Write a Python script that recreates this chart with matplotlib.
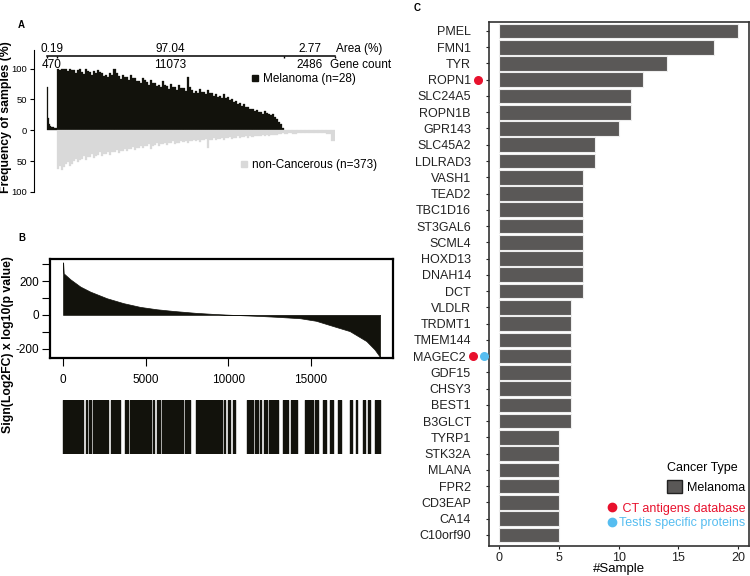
import numpy as np
import matplotlib
matplotlib.use('Agg')
import matplotlib.pyplot as plt
from matplotlib.patches import Patch
from matplotlib.lines import Line2D
from matplotlib.transforms import blended_transform_factory, ScaledTranslation

plt.rcParams['font.family'] = ['Liberation Sans', 'DejaVu Sans']

# ---------------- panel A : frequency of samples per gene ----------------
area_pct = [0.19, 97.04, 2.77]
gene_counts = [470, 11073, 2486]
seg1_mel = [70, 20, 10, 7, 6, 5, 5, 4, 4, 4]
seg2_mel = [100, 98, 100, 100, 99, 96, 100, 97, 97, 93, 98, 100, 95, 91, 100, 96,
            94, 89, 96, 93, 98, 94, 92, 88, 90, 86, 93, 89, 100, 92, 88, 83,
            90, 87, 86, 81, 89, 85, 84, 80, 80, 76, 85, 81, 78, 73, 82, 77,
            76, 72, 74, 70, 79, 73, 72, 67, 75, 70, 70, 66, 73, 68, 68, 63,
            86, 70, 66, 61, 64, 60, 67, 62, 62, 58, 65, 60, 60, 55, 58, 54,
            56, 52, 59, 53, 54, 49, 50, 46, 47, 43, 44, 40, 42, 38, 37, 34,
            35, 31, 33, 29, 30, 27, 31, 28, 27, 24, 26, 21, 18, 13, 10, 4]
seg2_non = [62, 58, 65, 60, 55, 51, 58, 54, 50, 47, 52, 48, 46, 42, 48, 44,
            43, 39, 45, 41, 40, 36, 42, 38, 38, 35, 40, 36, 35, 32, 37, 33,
            33, 30, 34, 31, 30, 27, 32, 28, 28, 25, 29, 26, 26, 23, 30, 25,
            24, 21, 25, 22, 22, 20, 24, 21, 21, 18, 23, 20, 20, 17, 19, 17,
            21, 18, 18, 16, 17, 15, 19, 16, 16, 14, 28, 15, 15, 13, 16, 14,
            14, 12, 15, 13, 13, 11, 14, 12, 12, 10, 13, 11, 11, 10, 12, 10,
            11, 9, 10, 9, 10, 8, 9, 8, 9, 7, 8, 7, 7, 6, 6, 5]
seg3_non = [6, 5, 6, 5, 5, 4, 5, 4, 5, 4, 6, 17]

# ---------------- panel B : ranked score + barcode ----------------
rank_x = [0, 5, 40, 442, 1044, 1647, 2651, 3655, 4659, 5663, 6667, 8000, 9000,
          10000, 11000, 12000, 13000, 14340, 15300, 16330, 17340, 18350, 18850, 19180]
score_y = [310, 310, 245, 210, 167, 137, 98, 69, 47, 33, 23, 12, 6,
           1, -3, -7, -12, -20, -35, -66, -96, -155, -205, -250]
bar_start = [0, 1150, 1390, 1590, 1800, 2890, 3750, 4050, 5430, 5670,
             6010, 6980, 7380, 8050, 9740, 10000, 10300, 11150, 11330, 11450,
             11620, 11920, 12160, 12480, 12720, 13330, 13770, 14640, 15250, 15750,
             16150, 16650, 17360, 17730, 18130, 18470, 18880]
bar_end = [1090, 1230, 1470, 1680, 2740, 3450, 3950, 5300, 5500, 5870,
           6880, 7240, 7680, 9600, 9820, 10080, 10390, 11240, 11400, 11510,
           11820, 12000, 12320, 12630, 12990, 13630, 14140, 15140, 15450, 15910,
           16350, 16800, 17470, 17810, 18250, 18570, 19180]

# ---------------- panel C : samples per gene ----------------
genes = ['PMEL', 'FMN1', 'TYR', 'ROPN1', 'SLC24A5', 'ROPN1B', 'GPR143', 'SLC45A2',
         'LDLRAD3', 'VASH1', 'TEAD2', 'TBC1D16', 'ST3GAL6', 'SCML4', 'HOXD13',
         'DNAH14', 'DCT', 'VLDLR', 'TRDMT1', 'TMEM144', 'MAGEC2', 'GDF15', 'CHSY3',
         'BEST1', 'B3GLCT', 'TYRP1', 'STK32A', 'MLANA', 'FPR2', 'CD3EAP', 'CA14',
         'C10orf90']
n_sample = [20, 18, 14, 12, 11, 11, 10, 8, 8, 7, 7, 7, 7, 7, 7, 7, 7,
            6, 6, 6, 6, 6, 6, 6, 6, 5, 5, 5, 5, 5, 5, 5]
ct_genes = ['ROPN1', 'MAGEC2']
testis_genes = ['MAGEC2']

DARK = '#12120c'
GREY = '#d9d9d9'
BARC = '#5a5857'
RED = '#e8112d'
BLUE = '#56bdf0'

fig = plt.figure(figsize=(7.5, 5.76), dpi=100)
W, H = 750.0, 576.0

def px_axes(left, top, right, bottom):
    return fig.add_axes([left / W, 1 - bottom / H, (right - left) / W, (bottom - top) / H])

# ---- A ----
axA = px_axes(34.3, 50, 335, 192)
bounds = np.concatenate([[0], np.cumsum(gene_counts)])

def bin_edges(values, start, count):
    w = count / len(values)
    return start + w * np.arange(len(values)), w

x1, w1 = bin_edges(seg1_mel, bounds[0], gene_counts[0])
axA.bar(x1, seg1_mel, width=w1, align='edge', color=DARK, edgecolor=DARK, linewidth=0.2)
x2, w2 = bin_edges(seg2_mel, bounds[1], gene_counts[1])
axA.bar(x2, seg2_mel, width=w2, align='edge', color=DARK, edgecolor=DARK, linewidth=0.2)
axA.bar(x2, -np.array(seg2_non), width=w2, align='edge', color=GREY, edgecolor=GREY, linewidth=0.2)
x3, w3 = bin_edges(seg3_non, bounds[2], gene_counts[2])
axA.bar(x3, -np.array(seg3_non), width=w3, align='edge', color=GREY, edgecolor=GREY, linewidth=0.2)

axA.set_xlim(-620, bounds[-1])
axA.set_ylim(-100, 130)
for s in ['top', 'right', 'bottom']:
    axA.spines[s].set_visible(False)
axA.spines['left'].set_bounds(-100, 130)
axA.spines['left'].set_linewidth(0.8)
axA.set_xticks([])
axA.set_yticks([100, 50, 0, -50, -100], ['100', '50', '0', '50', '100'])
axA.tick_params(axis='y', length=3, width=0.8, pad=2, labelsize=6.8)

# bracket with area / gene counts
axA.plot([bounds[0], bounds[-1]], [120, 120], color='black', lw=1.1, clip_on=False)
axA.vlines(bounds, 117.5, 121, color='black', lw=1.0, clip_on=False)
for i in range(3):
    c = (bounds[i] + bounds[i + 1]) / 2
    axA.text(c, 126, f'{area_pct[i]:.2f}', ha='center', va='baseline', fontsize=8.5, clip_on=False)
    axA.text(c, 100.5, f'{gene_counts[i]}', ha='center', va='baseline', fontsize=8.5, clip_on=False)
axA.text(bounds[-1] + 40, 126, 'Area (%)', ha='left', va='baseline', fontsize=8.5, clip_on=False)
axA.text(bounds[-1] - 260, 100.5, 'Gene count', ha='left', va='baseline', fontsize=8.5, clip_on=False)

legm = axA.legend([Line2D([], [], marker='s', ls='none', color=DARK, markersize=5)],
                  ['Melanoma (n=28)'], loc='center left', bbox_to_anchor=(0.718, 0.796),
                  frameon=False, handlelength=0.8, handletextpad=0.3, borderpad=0,
                  borderaxespad=0, fontsize=8.5)
axA.add_artist(legm)
axA.legend([Line2D([], [], marker='s', ls='none', color=GREY, markersize=5)],
           ['non-Cancerous (n=373)'], loc='center left', bbox_to_anchor=(0.682, 0.19),
           frameon=False, handlelength=0.8, handletextpad=0.3, borderpad=0,
           borderaxespad=0, fontsize=8.5)

# ---- B ----
axB = px_axes(50, 259, 393, 358)
axB.fill_between(rank_x, score_y, 0, color=DARK, linewidth=0.5)
axB.set_xlim(-790, 19960)
axB.set_ylim(-255, 330)
axB.set_yticks([-200, -100, 0, 100, 200, 300], ['-200', '', '0', '', '200', ''])
axB.set_xticks([0, 5000, 10000, 15000])
axB.tick_params(axis='y', length=5.5, width=0.8, pad=2, labelsize=8.5)
axB.tick_params(axis='x', length=5.5, width=0.8, pad=6, labelsize=8.5)
for s in axB.spines.values():
    s.set_linewidth(1.6)

axBc = px_axes(50, 400, 393, 454)
axBc.broken_barh([(s, e - s) for s, e in zip(bar_start, bar_end)], (0, 1), color=DARK)
axBc.set_xlim(-790, 19960)
axBc.set_ylim(0, 1)
axBc.axis('off')

# ---- C ----
axC = px_axes(489, 22, 749, 546)
ypos = np.arange(len(genes))
axC.barh(ypos, n_sample, height=0.9, color=BARC, edgecolor='#eeeeee', linewidth=0.8)
axC.set_ylim(len(genes) - 1 + 0.68, -0.55)
axC.set_xlim(-0.85, 20.9)
axC.set_xticks([0, 5, 10, 15, 20])
axC.set_yticks(ypos, genes)
axC.tick_params(axis='y', length=2.5, width=0.8, pad=10.5, labelsize=9, colors='#222222')
axC.tick_params(axis='x', length=2.5, width=0.8, pad=1.5, labelsize=9, colors='#222222')
axC.set_xlabel('#Sample', fontsize=9.5, labelpad=-0.5)
for s in axC.spines.values():
    s.set_linewidth(1.2)
    s.set_color('#333333')

# markers next to gene names
trans = blended_transform_factory(axC.transAxes, axC.transData)
for lab, g, y in zip(axC.get_yticklabels(), genes, ypos):
    cols = ([RED] if g in ct_genes else []) + ([BLUE] if g in testis_genes else [])
    if not cols:
        continue
    shift = 5 * (len(cols) - 1)
    if shift:
        lab.set_transform(lab.get_transform() + ScaledTranslation(-shift / 100, 0, fig.dpi_scale_trans))
    for i, c in enumerate(cols):
        xp = 470 - shift + 8 + 11 * i
        axC.scatter((xp - 489) / 260, y, s=30, color=c, transform=trans, clip_on=False, zorder=5)

legc = axC.legend(handles=[Patch(facecolor=BARC, edgecolor='#222222', linewidth=1.0)],
                  labels=['Melanoma'], title='Cancer Type', loc='upper right',
                  bbox_to_anchor=(0.985, 0.16), frameon=False, fontsize=9, title_fontsize=9,
                  alignment='left', handlelength=1.2, handleheight=1.2, handletextpad=0.35,
                  borderpad=0, borderaxespad=0)
axC.add_artist(legc)
axC.legend(handles=[Line2D([], [], marker='o', ls='none', color=RED, markersize=6),
                    Line2D([], [], marker='o', ls='none', color=BLUE, markersize=6)],
           labels=[' CT antigens database', 'Testis specific proteins'],
           labelcolor=[RED, BLUE], loc='upper right', bbox_to_anchor=(0.985, 0.083),
           frameon=False, fontsize=9, handlelength=0.6, handletextpad=0.2,
           labelspacing=0.2, borderpad=0, borderaxespad=0)

# ---- figure labels ----
fig.text(6 / W, 1 - 117 / H, 'Frequency of samples (%)', rotation=90, ha='center',
         va='center', fontsize=8.8, fontweight='bold')
fig.text(8 / W, 1 - 345 / H, 'Sign(Log2FC) x log10(p value)', rotation=90, ha='center',
         va='center', fontsize=8.8, fontweight='bold')
fig.text(18 / W, 1 - 25 / H, 'A', fontsize=7, fontweight='bold', va='center')
fig.text(18 / W, 1 - 238 / H, 'B', fontsize=7, fontweight='bold', va='center')
fig.text(414 / W, 1 - 8 / H, 'C', fontsize=7, fontweight='bold', va='center')

fig.savefig('out.png', dpi=100)
